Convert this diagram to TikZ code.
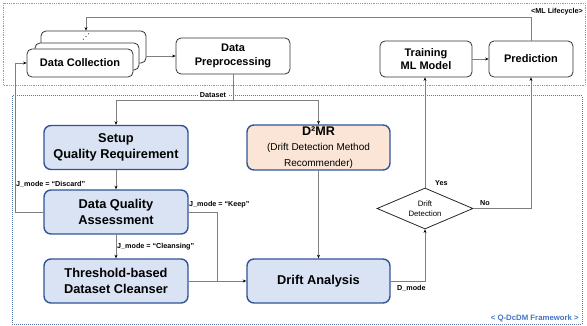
\documentclass[tikz,border=0pt]{standalone}
\usepackage{fontspec}
\setmainfont{Liberation Sans}
\newfontfamily\symfont{DejaVu Sans}
\usetikzlibrary{arrows.meta,shapes.geometric}
\definecolor{bfill}{HTML}{DAE3F3}
\definecolor{bline}{HTML}{2F5597}
\definecolor{ofill}{HTML}{FBE5D6}
\definecolor{cline}{HTML}{7F7F7F}
\definecolor{ftxt}{HTML}{4472C4}
\newcommand{\smallreg}{\mdseries\fontsize{10}{12}\selectfont}
\begin{document}
\begin{tikzpicture}[x=1pt,y=-1pt,
  topbox/.style={draw=black!80, line width=0.8pt, rounded corners=5pt, fill=white,
    font=\bfseries\fontsize{11}{13.5}\selectfont, align=center, inner sep=0pt},
  qbox/.style={draw=bline, line width=1.4pt, rounded corners=7pt, fill=bfill,
    font=\bfseries\fontsize{12.8}{16}\selectfont, align=center, inner sep=0pt,
    minimum width=144pt, minimum height=44pt},
  conn/.style={draw=cline, line width=0.6pt},
  arr/.style={conn, -{Stealth[length=3.5pt,width=3pt,color=black]}},
  lbl/.style={font=\bfseries\fontsize{7.2}{8}\selectfont, inner sep=1pt}]
\useasboundingbox (0,0) rectangle (587,326);
% frames
\draw[cline!80, densely dotted, line width=0.8pt] (3,3) rectangle (585,85);
\draw[bline!80, densely dotted, line width=1pt] (12,96) rectangle (582,324);
% top row
\node[topbox, minimum width=105pt, minimum height=32pt] (dc3) at (93.5,47) {};
\node[font=\symfont\fontsize{8}{8}\selectfont, inner sep=0pt] (dots) at (86,37) {⋰};
\node[topbox, minimum width=104pt, minimum height=27pt] (dc2) at (87,56.5) {};
\node[topbox, minimum width=106pt, minimum height=28pt] (dc1) at (80,63) {Data Collection};
\node[topbox, minimum width=114pt, minimum height=36pt] (pre) at (233,56) {Data\\Preprocessing};
\node[topbox, minimum width=92pt, minimum height=36pt] (train) at (426,59) {Training\\ML Model};
\node[topbox, minimum width=84pt, minimum height=36pt] (pred) at (531,59) {Prediction};
% framework
\node[qbox] (setup) at (116,147.5) {Setup\\Quality Requirement};
\node[qbox] (dqa) at (116,212) {Data Quality\\Assessment};
\node[qbox] (thr) at (116,281) {Threshold-based\\Dataset Cleanser};
\node[qbox, fill=ofill, minimum width=143pt, minimum height=45pt] (d2mr) at (318.5,147.5)
  {\fontsize{12.6}{14}\selectfont D²MR\\[-1.5pt]\smallreg (Drift Detection Method\\\smallreg Recommender)};
\node[qbox, minimum width=143pt] (da) at (318.5,281) {Drift Analysis};
\node[diamond, draw=black!85, line width=0.8pt, fill=white, aspect=2.3, inner sep=0pt,
  minimum width=96pt, minimum height=41pt, align=center,
  font=\fontsize{7.8}{10}\selectfont] (det) at (425,208.5) {Drift\\Detection};
% connectors
\coordinate (fb) at (86,17);
\coordinate (dl) at (15,0);
\coordinate (ds) at (233,100);
\coordinate (kp) at (217,0);
\draw[arr] (pre.west -| dc3.east) -- (pre.west);
\draw[arr] (train) -- (pred);
\draw[arr] (pred.north) |- (fb) -- (fb |- dc3.north);
\draw[arr] (dqa.west) -- (dqa.west -| dl) |- (dc1.west);
\draw[conn] (pre.south) -- (ds);
\draw[arr] (ds) -| (setup.north);
\draw[arr] (ds) -| (d2mr.north);
\draw[arr] (setup) -- (dqa);
\draw[arr] (dqa) -- (thr);
\draw[conn] (dqa.east) -- (dqa.east -| kp) -- (kp |- da.west);
\draw[arr] (thr) -- (da);
\draw[arr] (d2mr) -- (da);
\draw[arr] (da.east) -| (det.south);
\draw[arr] (det.north) -- (det.north |- train.south);
\draw[arr] (det.east) -| (pred.south);
% labels
\node[lbl, fill=white, inner xsep=2pt] (lds) at (213,95.5) {Dataset};
\node[lbl, anchor=east] (lml) at (584,12) {<ML Lifecycle>};
\node[lbl, anchor=east, text=ftxt, font=\bfseries\fontsize{7.8}{8}\selectfont] (lfw) at (580,318) {< Q-DcDM Framework >};
\node[lbl, anchor=west] (ldis) at (15,184) {J\_mode = “Discard”};
\node[lbl, anchor=west] (lkeep) at (188,205) {J\_mode = “Keep”};
\node[lbl, anchor=west] (lcl) at (116,247) {J\_mode = “Cleansing”};
\node[lbl, anchor=west] (ldm) at (396,288) {D\_mode};
\node[lbl, anchor=west] (lyes) at (434,183) {Yes};
\node[lbl, anchor=west] (lno) at (479,203) {No};
\end{tikzpicture}
\end{document}
